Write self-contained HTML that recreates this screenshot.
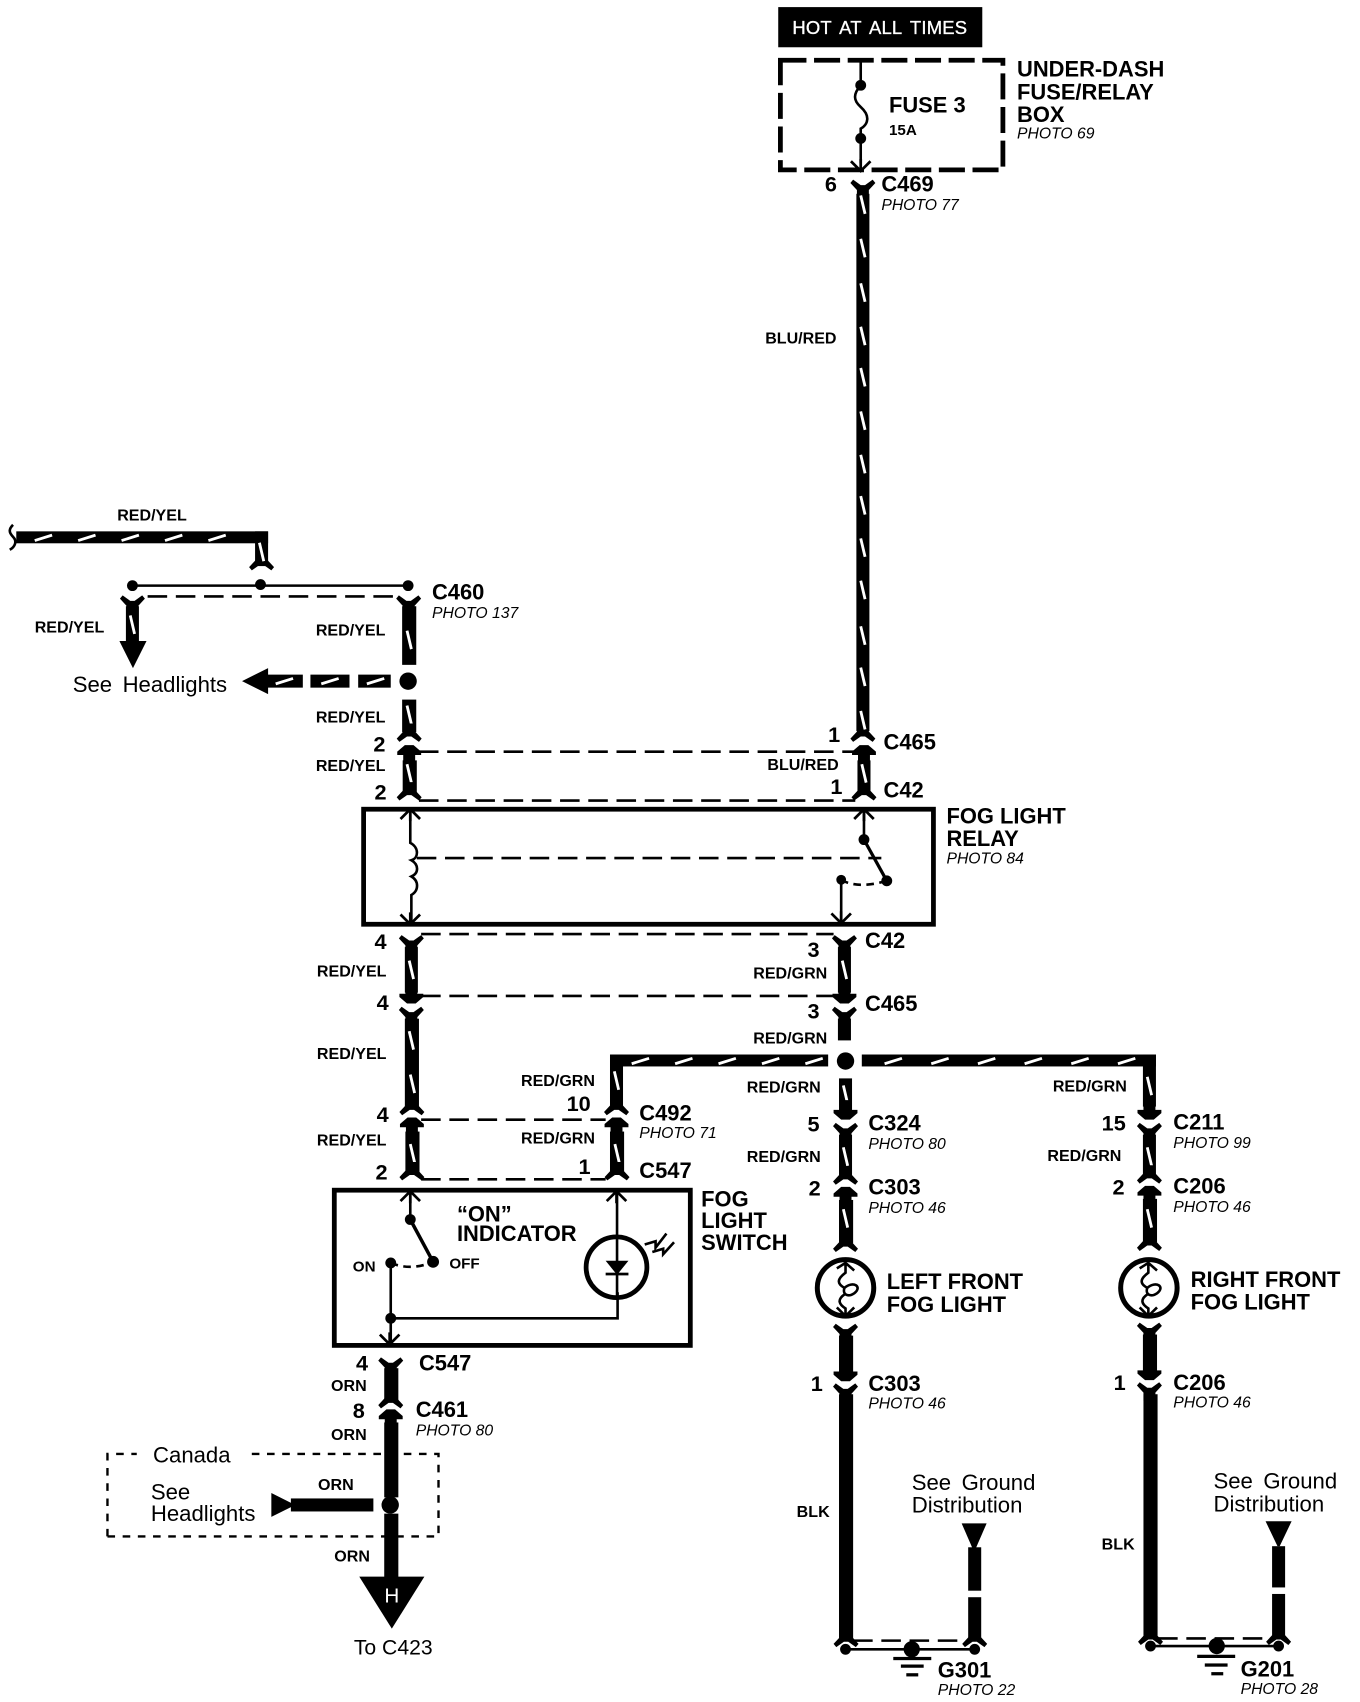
<!DOCTYPE html>
<html><head><meta charset="utf-8"><style>
html,body{margin:0;padding:0;background:#fff}
svg{display:block}
text{font-family:"Liberation Sans",Arial,sans-serif;fill:#000}
.b{font-weight:bold;font-size:20.2px}
.w{font-weight:bold;font-size:14.8px}
.p{font-style:italic;font-size:14.5px}
.r{font-size:20.4px}
.n{font-weight:bold;font-size:20px}
.t{stroke:#000;stroke-width:2.4;fill:none}
.d{stroke:#000;stroke-width:2.4;fill:none;stroke-dasharray:18 8}
</style></head><body>
<svg xmlns="http://www.w3.org/2000/svg" width="1360" height="1702" viewBox="0 0 1253 1568">
<defs>
<path id="yt" d="M-5.500,12V4.500L-11.500,-2L-9,-5L-2,0H2L9,-5L11.500,-2L5.500,4.500V12Z"/>
<path id="yb" d="M-5.500,-12V-4.500L-11.500,2L-9,5L-2,0H2L9,5L11.500,2L5.500,-4.500V-12Z"/>
<path id="au" d="M-5.500,12V3H-11V0L-4,-6H4L11,0V3H5.500V12Z"/>
<path id="ad" d="M-5.500,-12V-3H-11V0L-4,6H4L11,0V-3H5.500V-12Z"/>
<path id="cu" d="M-9,8L0,-1L9,8M0,-1V10" fill="none" stroke="#000" stroke-width="2.500"/>
<path id="cd" d="M-9,-8L0,1L9,-8M0,1V-10" fill="none" stroke="#000" stroke-width="2.500"/>
<path id="sv" d="M-2,-8.500L2,8.500" stroke="#fff" stroke-width="2.600"/>
<path id="sh" d="M-8,2.500L8,-2.500" stroke="#fff" stroke-width="2.600"/>
</defs>
<g transform="translate(-2,-1.500)">

<!-- top -->
<rect x="719" y="8" width="188" height="37"/>
<text x="732" y="33" font-size="17" textLength="161" lengthAdjust="spacing" style="fill:#fff" stroke="#fff" stroke-width="0.3" word-spacing="3">HOT AT ALL TIMES</text>
<rect x="721" y="57" width="205" height="101" fill="none" stroke="#000" stroke-width="4.400" stroke-dasharray="24 7"/>
<path class="t" d="M795,57V80C788,88 788,94 795,100C804,108 802,116 795,120V152"/>
<circle cx="795" cy="80" r="5"/><circle cx="795" cy="129" r="5"/>
<use href="#cd" x="795" y="158"/>
<text class="b" x="821" y="105">FUSE 3</text>
<text x="821" y="126" font-size="14" font-weight="bold">15A</text>
<text class="b" x="939" y="72">UNDER-DASH</text>
<text class="b" x="939" y="93">FUSE/RELAY</text>
<text class="b" x="939" y="114">BOX</text>
<text class="p" x="939" y="129">PHOTO 69</text>

<use href="#yt" x="797" y="172"/>
<rect x="791" y="180" width="12" height="495"/>
<use href="#yb" x="797" y="680"/>
<text class="n" x="762" y="178">6</text>
<text class="b" x="814" y="178">C469</text>
<text class="p" x="814" y="195">PHOTO 77</text>
<text class="w" x="707" y="318">BLU/RED</text>
<g>
<use href="#sv" x="797" y="190"/><use href="#sv" x="797" y="230"/><use href="#sv" x="797" y="271"/><use href="#sv" x="797" y="311"/><use href="#sv" x="797" y="349"/><use href="#sv" x="797" y="389"/><use href="#sv" x="797" y="429"/><use href="#sv" x="797" y="467"/><use href="#sv" x="797" y="506"/><use href="#sv" x="797" y="545"/><use href="#sv" x="797" y="587"/><use href="#sv" x="797" y="625"/><use href="#sv" x="797" y="665"/>
</g>
<use href="#au" x="798" y="694"/>
<rect x="792" y="702" width="12" height="30"/>
<use href="#yb" x="798" y="734"/>
<use href="#sv" x="798" y="714"/>
<text class="n" x="765" y="685">1</text>
<text class="b" x="816" y="692">C465</text>
<text class="w" x="709" y="711">BLU/RED</text>
<text class="n" x="767" y="733">1</text>
<text class="b" x="816" y="736">C42</text>

<!-- upper-left feed -->
<path d="M14,485C10,489 10,492 14,496C18,500 16,505 11,508" class="t"/>
<rect x="17" y="491" width="232" height="11"/>
<rect x="237" y="491" width="12" height="32"/>
<use href="#yb" x="243" y="522"/>
<use href="#sh" x="42" y="497"/><use href="#sh" x="82" y="497"/><use href="#sh" x="122" y="497"/><use href="#sh" x="162" y="497"/><use href="#sh" x="202" y="497"/>
<use href="#sv" x="243" y="510"/>
<text class="w" x="110" y="481">RED/YEL</text>
<path class="t" d="M124,541H378"/>
<circle cx="124" cy="541" r="5"/><circle cx="242" cy="540" r="5"/><circle cx="378" cy="541" r="5"/>
<path class="d" d="M138,551H370"/>
<use href="#yt" x="124" y="555"/>
<rect x="118" y="560" width="12" height="33"/>
<use href="#sv" x="124" y="577"/>
<path d="M112,592H137L124.500,617Z"/>
<text class="w" x="34" y="584">RED/YEL</text>
<use href="#yt" x="378.500" y="555"/>
<rect x="372.500" y="560" width="13" height="54"/>
<use href="#sv" x="379" y="591"/>
<text class="b" x="400" y="554">C460</text>
<text class="p" x="400" y="571">PHOTO 137</text>
<text class="w" x="293" y="587">RED/YEL</text>
<text class="r" x="69" y="639" word-spacing="4">See Headlights</text>
<path d="M225,629L249,617V623H281V635H249V641Z"/>
<rect x="288" y="623" width="36" height="12"/><rect x="332" y="623" width="30" height="12"/>
<use href="#sh" x="264" y="629"/><use href="#sh" x="306" y="629"/><use href="#sh" x="348" y="629"/>
<circle cx="378" cy="629" r="8"/>
<rect x="372.500" y="646" width="13" height="30"/>
<use href="#sv" x="379" y="660"/>
<use href="#yb" x="379" y="680"/>
<text class="w" x="293" y="667">RED/YEL</text>
<text class="n" x="346" y="694">2</text>
<use href="#au" x="379" y="694"/>
<rect x="373" y="702" width="13" height="30"/>
<use href="#sv" x="379" y="714"/>
<use href="#yb" x="379" y="734"/>
<text class="w" x="293" y="712">RED/YEL</text>
<text class="n" x="347" y="738">2</text>
<path class="d" d="M388,694H790"/><path class="d" d="M388,739H790"/>

<!-- relay -->
<rect x="337" y="747" width="525" height="106" fill="none" stroke="#000" stroke-width="4.400"/>
<text class="b" x="874" y="760">FOG LIGHT</text>
<text class="b" x="874" y="781">RELAY</text>
<text class="p" x="874" y="797">PHOTO 84</text>
<use href="#cu" x="380" y="748"/>
<path class="t" d="M380,748V778C388,782 388,792 381,794C388,798 388,806 381,809C388,813 388,822 381,826V852"/>
<use href="#cd" x="380" y="852"/>
<path class="d" d="M386,792H814"/>
<use href="#cu" x="798" y="748"/>
<path class="t" d="M798,748V775"/>
<circle cx="798" cy="775" r="5"/>
<path stroke="#000" stroke-width="3" d="M798,775L819,813"/>
<circle cx="819" cy="813" r="5"/>
<path class="t" stroke-dasharray="7 5" d="M777,812C787,818 802,818 819,813"/>
<circle cx="777" cy="812" r="4.500"/>
<path class="t" d="M777,812V851"/>
<use href="#cd" x="777" y="851"/>

<!-- below relay -->
<use href="#yt" x="381" y="868"/>
<rect x="375" y="874" width="12" height="42"/>
<use href="#ad" x="381" y="920"/>
<use href="#sv" x="381" y="895"/>
<use href="#yt" x="381" y="934"/>
<rect x="375" y="940" width="13" height="82"/>
<use href="#sv" x="381" y="960"/><use href="#sv" x="382" y="1000"/>
<use href="#yb" x="381.500" y="1024"/>
<use href="#au" x="381.500" y="1037"/>
<rect x="375.500" y="1044" width="13" height="40"/>
<use href="#sv" x="382" y="1064"/>
<use href="#yb" x="381.500" y="1084"/>
<text class="n" x="347" y="876">4</text>
<text class="w" x="294" y="901">RED/YEL</text>
<text class="n" x="349" y="932">4</text>
<text class="w" x="294" y="977">RED/YEL</text>
<text class="n" x="349" y="1035">4</text>
<text class="w" x="294" y="1057">RED/YEL</text>
<text class="n" x="348" y="1088">2</text>
<path class="d" d="M390,862H770"/><path class="d" d="M390,919H770"/>

<use href="#yt" x="780" y="868"/>
<rect x="774" y="874" width="12" height="42"/>
<use href="#ad" x="780" y="920"/>
<use href="#sv" x="780" y="895"/>
<use href="#yt" x="780" y="934"/>
<rect x="774" y="940" width="12" height="20"/>
<text class="b" x="799" y="875">C42</text>
<text class="n" x="746" y="883">3</text>
<text class="w" x="696" y="903">RED/GRN</text>
<text class="b" x="799" y="933">C465</text>
<text class="n" x="746" y="940">3</text>
<text class="w" x="696" y="963">RED/GRN</text>
<circle cx="781" cy="979" r="8"/>

<rect x="565" y="973" width="200" height="11"/>
<rect x="564" y="973" width="12" height="48"/>
<use href="#sh" x="592" y="979"/><use href="#sh" x="632" y="979"/><use href="#sh" x="672" y="979"/><use href="#sh" x="712" y="979"/><use href="#sh" x="752" y="979"/>
<use href="#sv" x="570" y="997"/>
<use href="#yb" x="570" y="1024"/>
<use href="#au" x="570" y="1037"/>
<rect x="564" y="1044" width="13" height="40"/>
<use href="#sv" x="570.500" y="1064"/>
<use href="#yb" x="570.500" y="1084"/>
<path class="d" d="M390,1033H560"/><path class="d" d="M390,1088H560"/>
<text class="w" x="482" y="1002">RED/GRN</text>
<text class="n" x="524" y="1025">10</text>
<text class="w" x="482" y="1055">RED/GRN</text>
<text class="n" x="535" y="1083">1</text>
<text class="b" x="591" y="1034">C492</text>
<text class="p" x="591" y="1050">PHOTO 71</text>
<text class="b" x="591" y="1087">C547</text>

<rect x="796" y="973" width="271" height="11"/>
<rect x="1055" y="973" width="12" height="48"/>
<use href="#sh" x="825" y="979"/><use href="#sh" x="868" y="979"/><use href="#sh" x="911" y="979"/><use href="#sh" x="954" y="979"/><use href="#sh" x="997" y="979"/><use href="#sh" x="1040" y="979"/>
<use href="#sv" x="1061" y="1002"/>

<!-- left fog column -->
<rect x="775" y="995" width="12" height="30"/>
<use href="#sv" x="781" y="1010"/>
<use href="#ad" x="781" y="1027"/>
<use href="#yt" x="781" y="1041"/>
<rect x="775" y="1047" width="12" height="40"/>
<use href="#sv" x="781" y="1067"/>
<use href="#yb" x="781" y="1088"/>
<use href="#au" x="781" y="1101"/>
<rect x="775" y="1107" width="13" height="40"/>
<use href="#sv" x="781" y="1124"/>
<use href="#yb" x="781" y="1150"/>
<text class="w" x="690" y="1008">RED/GRN</text>
<text class="n" x="746" y="1044">5</text>
<text class="b" x="802" y="1043">C324</text>
<text class="p" x="802" y="1060">PHOTO 80</text>
<text class="w" x="690" y="1072">RED/GRN</text>
<text class="n" x="747" y="1103">2</text>
<text class="b" x="802" y="1102">C303</text>
<text class="p" x="802" y="1119">PHOTO 46</text>
<circle cx="781" cy="1188" r="26" fill="none" stroke="#000" stroke-width="4.600"/>
<path class="t" stroke-width="2.600" d="M773,1170L781,1165L789,1172M781,1165V1174C773,1180 773,1184 780,1188C788,1181 797,1187 789,1193C783,1197 778,1194 780,1188M780,1194C773,1199 775,1203 781,1207V1214M773,1206L781,1214L789,1206"/>
<use href="#yt" x="781" y="1226"/>
<rect x="775" y="1232" width="13" height="34"/>
<use href="#ad" x="781" y="1268"/>
<use href="#yt" x="781" y="1281"/>
<rect x="775" y="1286" width="13" height="226"/>
<use href="#yb" x="781.500" y="1514"/>
<text class="b" x="819" y="1189">LEFT FRONT</text>
<text class="b" x="819" y="1210">FOG LIGHT</text>
<text class="n" x="749" y="1283">1</text>
<text class="b" x="802" y="1283">C303</text>
<text class="p" x="802" y="1299">PHOTO 46</text>
<text class="w" x="736" y="1399">BLK</text>
<text class="r" x="842" y="1374" word-spacing="4">See Ground</text>
<text class="r" x="842" y="1395">Distribution</text>
<path d="M888,1405H911L901,1428H898Z"/>
<rect x="894" y="1427" width="12" height="40"/><rect x="894" y="1473" width="12" height="40"/>
<use href="#yb" x="900" y="1514"/>
<path class="d" stroke-dasharray="20 8" d="M788,1513H892"/>
<path class="t" d="M781,1521H900"/>
<circle cx="781" cy="1521" r="5"/><circle cx="900" cy="1521" r="5"/>
<circle cx="842" cy="1521" r="7.500"/>
<rect x="825" y="1528" width="35" height="3"/><rect x="832" y="1535" width="21" height="3"/><rect x="837" y="1543" width="11" height="3"/>
<text class="b" x="866" y="1547">G301</text>
<text class="p" x="866" y="1563">PHOTO 22</text>

<!-- right fog column -->
<use href="#ad" x="1061" y="1027"/>
<use href="#yt" x="1061" y="1041"/>
<rect x="1055" y="1047" width="12" height="40"/>
<use href="#sv" x="1061" y="1067"/>
<use href="#yb" x="1061" y="1087"/>
<use href="#au" x="1061" y="1100"/>
<rect x="1055" y="1106" width="13" height="40"/>
<use href="#sv" x="1061" y="1124"/>
<use href="#yb" x="1061" y="1149"/>
<text class="w" x="972" y="1007">RED/GRN</text>
<text class="n" x="1017" y="1043">15</text>
<text class="b" x="1083" y="1042">C211</text>
<text class="p" x="1083" y="1059">PHOTO 99</text>
<text class="w" x="967" y="1071">RED/GRN</text>
<text class="n" x="1027" y="1102">2</text>
<text class="b" x="1083" y="1101">C206</text>
<text class="p" x="1083" y="1118">PHOTO 46</text>
<circle cx="1060.500" cy="1188" r="26" fill="none" stroke="#000" stroke-width="4.600"/>
<path class="t" stroke-width="2.600" d="M1052,1170L1060,1165L1068,1172M1060,1165V1174C1052,1180 1052,1184 1059,1188C1067,1181 1076,1187 1068,1193C1062,1197 1057,1194 1059,1188M1059,1194C1052,1199 1054,1203 1060,1207V1214M1052,1206L1060,1214L1068,1206"/>
<use href="#yt" x="1061" y="1225"/>
<rect x="1055" y="1231" width="13" height="34"/>
<use href="#ad" x="1061" y="1267"/>
<use href="#yt" x="1061" y="1280"/>
<rect x="1055.500" y="1286" width="13" height="224"/>
<use href="#yb" x="1062" y="1512"/>
<text class="b" x="1099" y="1187">RIGHT FRONT</text>
<text class="b" x="1099" y="1208">FOG LIGHT</text>
<text class="n" x="1028" y="1282">1</text>
<text class="b" x="1083" y="1282">C206</text>
<text class="p" x="1083" y="1298">PHOTO 46</text>
<text class="w" x="1017" y="1429">BLK</text>
<text class="r" x="1120" y="1373" word-spacing="4">See Ground</text>
<text class="r" x="1120" y="1394">Distribution</text>
<path d="M1168,1403H1192L1181,1426H1179Z"/>
<rect x="1174" y="1426" width="12" height="38"/><rect x="1174" y="1470" width="12" height="40"/>
<use href="#yb" x="1180" y="1512"/>
<path class="d" stroke-dasharray="20 8" d="M1069,1511H1172"/>
<path class="t" d="M1062,1518H1180"/>
<circle cx="1062" cy="1518" r="5"/><circle cx="1180" cy="1518" r="5"/>
<circle cx="1123" cy="1518" r="7.500"/>
<rect x="1105" y="1526" width="35" height="3"/><rect x="1112" y="1534" width="21" height="3"/><rect x="1118" y="1542" width="11" height="3"/>
<text class="b" x="1145" y="1546">G201</text>
<text class="p" x="1145" y="1562">PHOTO 28</text>

<!-- switch -->
<rect x="310" y="1098" width="328" height="143" fill="none" stroke="#000" stroke-width="4.400"/>
<text class="b" x="648" y="1113">FOG</text>
<text class="b" x="648" y="1133">LIGHT</text>
<text class="b" x="648" y="1153">SWITCH</text>
<text class="b" x="423" y="1127">“ON”</text>
<text class="b" x="423" y="1145">INDICATOR</text>
<use href="#cu" x="380" y="1100"/>
<path class="t" d="M380,1100V1125"/>
<circle cx="380" cy="1125" r="5"/>
<path stroke="#000" stroke-width="3.200" d="M380,1125L401,1164"/>
<circle cx="401" cy="1164" r="5.500"/>
<path class="t" stroke-dasharray="7 5" d="M362,1165C374,1170 387,1170 401,1164"/>
<circle cx="362" cy="1165" r="5"/>
<text x="327" y="1173" font-size="14" font-weight="bold">ON</text>
<text x="416" y="1170" font-size="14" font-weight="bold">OFF</text>
<path class="t" d="M362,1165V1239M362,1216H571V1192"/>
<circle cx="362" cy="1216" r="5"/>
<use href="#cd" x="361" y="1239"/>
<use href="#cu" x="570" y="1100"/>
<path class="t" d="M570.500,1100V1197"/>
<circle cx="570" cy="1169" r="28" fill="none" stroke="#000" stroke-width="4.400"/>
<path d="M560,1163H581L570.500,1176Z"/>
<rect x="560" y="1174" width="21" height="2.500"/>
<path class="t" stroke-width="3" d="M596,1148L606,1145L606,1151L616,1138M603,1155L613,1152L613,1157L623,1146"/>

<!-- bottom -->
<use href="#yt" x="362" y="1257"/>
<rect x="356" y="1262" width="13" height="30"/>
<use href="#yb" x="362" y="1294"/>
<use href="#au" x="362" y="1306"/>
<rect x="356" y="1312" width="13" height="69"/>
<circle cx="361.500" cy="1388" r="8"/>
<rect x="356" y="1396" width="13" height="60"/>
<path d="M333,1454H393L363,1502Z"/>
<text x="363" y="1478" font-size="19" text-anchor="middle" style="fill:#fff">H</text>
<text class="n" x="330" y="1264">4</text>
<text class="b" x="388" y="1264">C547</text>
<text class="w" x="307" y="1283">ORN</text>
<text class="n" x="327" y="1308">8</text>
<text class="b" x="385" y="1307">C461</text>
<text class="p" x="385" y="1324">PHOTO 80</text>
<text class="w" x="307" y="1328">ORN</text>
<text class="w" x="295" y="1374">ORN</text>
<text class="w" x="310" y="1440">ORN</text>
<text x="328" y="1526" font-size="19.500">To C423</text>
<path d="M252,1377L274,1388L252,1399Z"/><rect x="270" y="1382" width="76" height="12"/>
<path d="M101,1417V1341H128M234,1341H406V1417H101" fill="none" stroke="#000" stroke-width="2.200" stroke-dasharray="7 7"/>
<text class="r" x="143" y="1349">Canada</text>
<text class="r" x="141" y="1383">See</text>
<text class="r" x="141" y="1403">Headlights</text>
</g>
</svg>
</body></html>
